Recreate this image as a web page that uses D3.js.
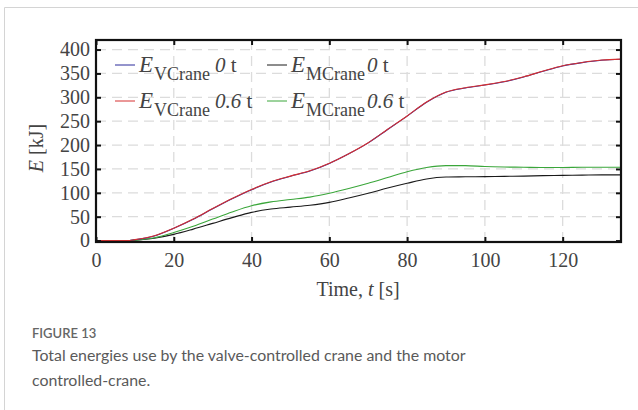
<!DOCTYPE html>
<html><head><meta charset="utf-8">
<script src="https://cdn.jsdelivr.net/npm/d3@7"></script>
<style>html,body{margin:0;padding:0;background:#fff;}</style>
</head><body>
<svg id="c" width="638" height="410"></svg>
<script>
const time = [0,5,8,10,15,20,25,30,35,40,45,50,55,60,65,70,75,80,85,90,95,100,105,110,115,120,125,130,135];
const eVCrane0  = [0,0,0,1.8,9.6,25.6,44.6,66.6,87.6,106.6,122.6,134.6,145.6,161.6,181.6,204.6,232.6,260.6,289.6,310.6,319.6,325.6,332.6,342.6,354.6,365.6,372.6,377.6,379.6];
const eVCrane06 = [0,0,0,2,10,26,45,67,88,107,123,135,146,162,182,205,233,261,290,311,320,326,333,343,355,366,373,378,380];
const eMCrane0  = [0,0,0,1,5,13,24,36,48,59,66,70,74,80,89,99,110,120,129,133,133.5,134,134.5,135,136,136.5,137,137.5,137.5];
const eMCrane06 = [0,0,0,1,6,17,30,45,60,73,81,86,91,99,109,120,132,144,153,157,157,155,154,153.5,153,153,153.5,153.5,153.5];
const xTicks = [0,20,40,60,80,100,120];
const yTicks = [0,50,100,150,200,250,300,350,400];
const seriesNames = ["VCrane","MCrane","VCrane","MCrane"];
const seriesLoads = ["0","0","0.6","0.6"];
const seriesColors = ["#2b2b9a","#1a1a1a","#d63030","#3aa63a"];

(function(){
const svg = d3.select("#c");
// card border
svg.append("path").attr("d","M4.5,410 V7.5 H638").attr("fill","none").attr("stroke","#d4d4d4").attr("stroke-width",1);

const L=96,R=621,T=40,B=242;
const x = d3.scaleLinear().domain([0,135]).range([L,R]);
const y = d3.scaleLinear().domain([-3,420]).range([B,T]);
const serif = "'Liberation Serif','Times New Roman',serif";

// grid
const g = svg.append("g");
g.selectAll(".gx").data(xTicks.filter(d=>d>0)).enter().append("line")
 .attr("x1",d=>x(d)).attr("x2",d=>x(d)).attr("y1",T).attr("y2",B)
 .attr("stroke","#dcdcdc").attr("stroke-width",1.3).attr("stroke-dasharray","10,6");
g.selectAll(".gy").data(yTicks.filter(d=>d>0)).enter().append("line")
 .attr("x1",L).attr("x2",R).attr("y1",d=>y(d)).attr("y2",d=>y(d))
 .attr("stroke","#dcdcdc").attr("stroke-width",1.3).attr("stroke-dasharray","10,6");

// lines
const allSeries = [eVCrane0, eMCrane0, eVCrane06, eMCrane06];
const line = d3.line().x((d,i)=>x(time[i])).y(d=>y(d)).curve(d3.curveMonotoneX);
[1,3,0,2].forEach(k=>{
  svg.append("path").datum(allSeries[k]).attr("d",line).attr("fill","none")
    .attr("stroke",seriesColors[k]).attr("stroke-width",1.1);
});

// axes (ticks inward, mirrored)
const axBottom = d3.axisBottom(x).tickValues(xTicks).tickSize(-5).tickPadding(11);
const axLeft = d3.axisLeft(y).tickValues(yTicks).tickSize(-5).tickPadding(6);
const axTop = d3.axisTop(x).tickValues(xTicks).tickSize(-5).tickFormat("");
const axRight = d3.axisRight(y).tickValues(yTicks).tickSize(-5).tickFormat("");
function style(sel){
  sel.select(".domain").remove();
  sel.selectAll("line").attr("stroke","#111").attr("stroke-width",2);
  sel.selectAll("text").attr("fill","#444").attr("font-family",serif).attr("font-size",20);
}
svg.append("g").attr("transform",`translate(0,${B})`).call(axBottom).call(style);
svg.append("g").attr("transform",`translate(${L},0)`).call(axLeft).call(style);
svg.append("g").attr("transform",`translate(0,${T})`).call(axTop).call(style);
svg.append("g").attr("transform",`translate(${R},0)`).call(axRight).call(style);
svg.append("rect").attr("x",L).attr("y",T).attr("width",R-L).attr("height",B-T)
  .attr("fill","none").attr("stroke","#111").attr("stroke-width",2.2);

// axis labels
const yl = svg.append("text").attr("transform","translate(43,148) rotate(-90)")
  .attr("text-anchor","middle").attr("font-family",serif).attr("font-size",20).attr("fill","#444");
yl.append("tspan").attr("font-style","italic").text("E");
yl.append("tspan").text(" [kJ]");
const xl = svg.append("text").attr("x",358).attr("y",296)
  .attr("text-anchor","middle").attr("font-family",serif).attr("font-size",20).attr("fill","#444");
xl.append("tspan").text("Time, ");
xl.append("tspan").attr("font-style","italic").text("t");
xl.append("tspan").text(" [s]");

// legend
const legPos = [[115,65],[267,65],[115,101],[267,101]];
allSeries.forEach((s,k)=>{
  const [lx,ly] = legPos[k];
  const lg = svg.append("g").attr("font-family",serif).attr("fill","#444");
  lg.append("line").attr("x1",lx).attr("x2",lx+20).attr("y1",ly).attr("y2",ly)
    .attr("stroke",seriesColors[k]).attr("stroke-width",1);
  lg.append("text").attr("x",lx+24).attr("y",ly+7).attr("font-size",23).attr("font-style","italic").text("E");
  lg.append("text").attr("x",lx+39).attr("y",ly+15).attr("font-size",18).text(seriesNames[k]);
  const t = lg.append("text").attr("x",lx+100).attr("y",ly+7).attr("font-size",21);
  t.append("tspan").attr("font-style","italic").text(seriesLoads[k]);
  t.append("tspan").text(" t");
});

// caption
const sans = "Lato,'Open Sans',sans-serif";
svg.append("text").attr("x",32).attr("y",338).attr("font-family",sans).attr("font-size",13)
  .attr("font-weight",600).attr("fill","#666").text("FIGURE 13");
svg.append("text").attr("x",32).attr("y",361).attr("font-family",sans).attr("font-size",15.9)
  .attr("fill","#5a5a5a").text("Total energies use by the valve-controlled crane and the motor");
svg.append("text").attr("x",32).attr("y",386).attr("font-family",sans).attr("font-size",15.9)
  .attr("fill","#5a5a5a").text("controlled-crane.");
})();
</script>
</body></html>
